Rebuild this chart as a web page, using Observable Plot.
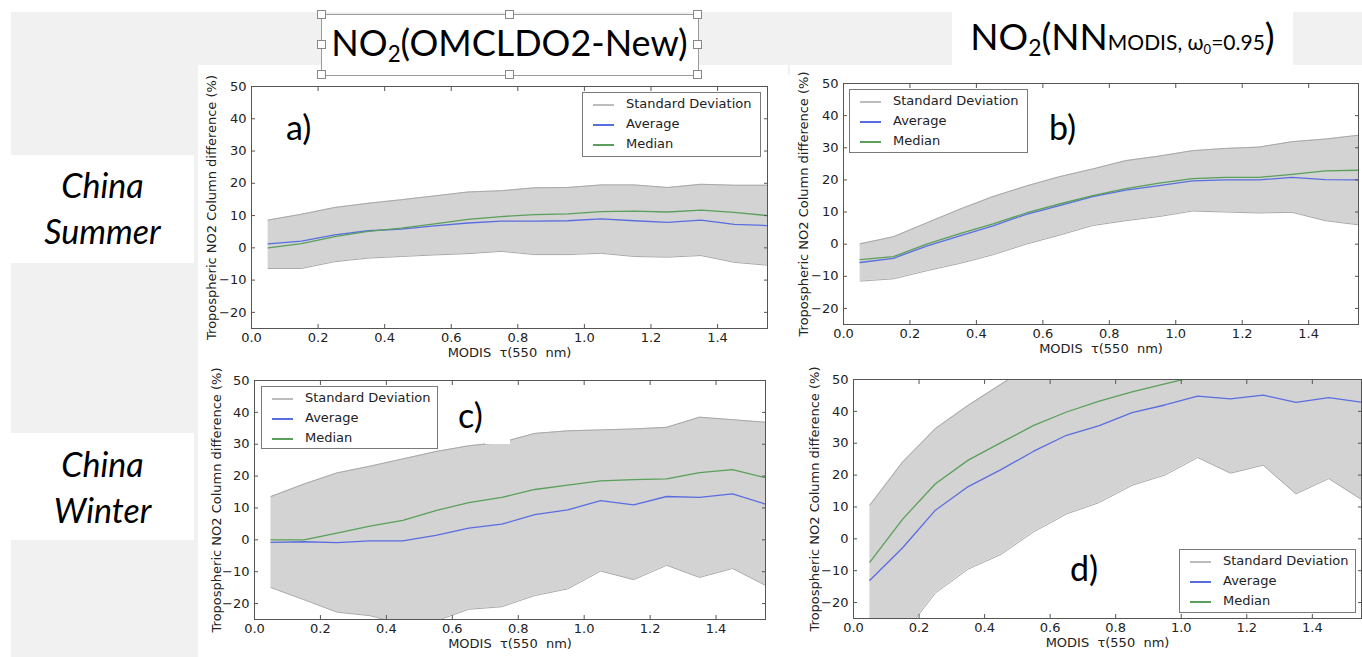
<!DOCTYPE html>
<html>
<head>
<meta charset="utf-8">
<script src="https://cdn.jsdelivr.net/npm/d3@7"></script>
<script src="https://cdn.jsdelivr.net/npm/@observablehq/plot@0.6"></script>
<style>
  body { margin: 0; background: #fff; }
  #page { position: relative; width: 1362px; height: 657px; overflow: hidden; background: #fff; font-family: Lato, "Open Sans", sans-serif; }
  .gray { position: absolute; background: #f1f1f1; }
  .white { position: absolute; background: #fff; }
  .panel { position: absolute; overflow: hidden; }
  .panel svg { display: block; }
  .title { position: absolute; color: #000; white-space: nowrap; line-height: 1; }
  .sub { font-size: 0.62em; position: relative; top: 0.28em; }
  .handle { position: absolute; width: 7px; height: 7px; background: #fff; border: 1px solid #888; }
  .boxline { position: absolute; border: 1px solid #9a9a9a; }
  .region { position: absolute; font-style: italic; font-size: 34px; color: #000; text-align: center; line-height: 46px; }
  .tag { position: absolute; font-size: 34px; color: #000; line-height: 1; }
  .legend { position: absolute; background: #fff; border: 1px solid #7a7a7a; box-sizing: border-box; font-family: "DejaVu Sans", sans-serif; font-size: 13px; color: #222; }
  .legend .row { position: absolute; left: 0; right: 0; height: 20px; }
  .legend .sw { position: absolute; left: 10px; top: 10px; width: 21px; height: 1.5px; }
  .legend .lab { position: absolute; left: 43px; top: 2px; white-space: nowrap; }
</style>
</head>
<body>
<div id="page"></div>
<script>
// MODIS aerosol optical depth bin centres
const tau = [0.05, 0.15, 0.25, 0.35, 0.45, 0.55, 0.65, 0.75, 0.85, 0.95, 1.05, 1.15, 1.25, 1.35, 1.45, 1.55];

// a) OMCLDO2-New, China summer
const aHi  = [8.6, 10.4, 12.5, 13.8, 14.9, 16.1, 17.3, 17.7, 18.6, 18.7, 19.5, 19.5, 18.7, 19.7, 19.4, 19.4];
const aLo  = [-6.4, -6.4, -4.3, -3.2, -2.7, -2.2, -1.8, -1.1, -2.1, -2.1, -1.7, -2.7, -2.9, -2.4, -4.5, -5.4];
const aAvg = [1.2, 2.1, 4.0, 5.3, 5.8, 6.8, 7.7, 8.3, 8.3, 8.4, 9.0, 8.4, 7.9, 8.6, 7.3, 6.9];
const aMed = [0.0, 1.3, 3.5, 5.1, 6.1, 7.4, 8.8, 9.7, 10.3, 10.5, 11.2, 11.4, 11.1, 11.7, 11.0, 10.0];

// b) NN MODIS, China summer
const bHi  = [0.1, 2.3, 6.6, 10.9, 14.8, 18.1, 21.0, 23.4, 26.0, 27.4, 29.1, 29.8, 30.2, 31.9, 32.7, 33.9];
const bLo  = [-11.5, -10.8, -8.3, -6.0, -3.3, 0.0, 2.8, 5.8, 7.3, 8.6, 10.3, 10.0, 9.7, 9.9, 7.3, 6.0];
const bAvg = [-5.7, -4.4, -0.6, 2.6, 5.7, 9.3, 12.0, 14.8, 16.8, 18.2, 19.7, 20.0, 20.0, 20.8, 20.1, 20.0];
const bMed = [-4.8, -3.9, 0.0, 3.3, 6.3, 9.7, 12.5, 15.1, 17.3, 19.0, 20.4, 20.8, 20.8, 21.7, 22.8, 23.0];

// c) OMCLDO2-New, China winter
const cHi  = [13.6, 17.5, 21.0, 23.1, 25.4, 27.7, 29.5, 30.6, 33.4, 34.2, 34.5, 34.8, 35.3, 38.5, 37.7, 36.9];
const cLo  = [-15.0, -18.8, -22.7, -23.8, -26.5, -25.5, -21.8, -21.0, -17.5, -15.4, -9.8, -12.5, -8.0, -11.8, -9.0, -14.3];
const cAvg = [-0.8, -0.6, -0.9, -0.3, -0.3, 1.4, 3.7, 4.9, 7.9, 9.4, 12.3, 11.0, 13.6, 13.3, 14.4, 11.2];
const cMed = [0.0, 0.0, 2.1, 4.3, 6.1, 9.2, 11.7, 13.3, 15.8, 17.2, 18.5, 18.9, 19.1, 21.1, 22.0, 19.5];

// d) NN MODIS, China winter
const dHi  = [10.6, 24.1, 34.6, 41.9, 48.5, 55.0, 58.0, 60.0, 62.0, 64.0, 66.0, 66.0, 67.0, 66.0, 68.0, 70.0];
const dLo  = [-45.0, -30.3, -17.0, -9.5, -4.9, 2.2, 7.8, 11.4, 16.8, 20.0, 25.5, 20.6, 23.1, 14.1, 18.9, 12.3];
const dAvg = [-13.0, -2.8, 9.0, 16.4, 21.7, 27.5, 32.5, 35.5, 39.6, 42.0, 44.8, 43.9, 45.1, 42.8, 44.3, 42.9];
const dMed = [-7.3, 6.2, 17.3, 24.7, 30.2, 35.6, 39.8, 43.2, 46.1, 48.6, 51.1, 52.0, 53.0, 54.0, 55.0, 55.0];

const xTicks = [0, 0.2, 0.4, 0.6, 0.8, 1.0, 1.2, 1.4];
const yTicks = [-20, -10, 0, 10, 20, 30, 40, 50];
const xTitle = "MODIS  \u03c4(550  nm)";
const yTitle = "Tropospheric NO2 Column difference (%)";
const legendLabels = ["Standard Deviation", "Average", "Median"];
const colors = { band: "#d3d3d3", bandEdge: "#a8a8a8", legendBand: "#bdbdbd", avg: "#5a6de0", med: "#5a9f5a" };

const page = document.getElementById("page");
function box(cls, l, t, w, h, extra) {
  const d = document.createElement("div");
  d.className = cls;
  Object.assign(d.style, { left: l + "px", top: t + "px", width: w + "px", height: h + "px" }, extra || {});
  page.appendChild(d);
  return d;
}

// slide background
box("gray", 11, 12, 941, 53);
box("gray", 1293, 12, 69, 53);
box("gray", 11, 65, 187, 592);
box("gray", 780, 65, 10, 10);
box("gray", 1235, 652, 127, 5);
box("white", 11, 155, 183, 108);
box("white", 11, 433, 183, 107);

function panel(p) {
  const rows = tau.map((t, i) => ({ t, lo: p.lo[i], hi: p.hi[i], avg: p.avg[i], med: p.med[i] }));
  const chart = Plot.plot({
    width: p.w, height: p.h,
    marginLeft: p.ml, marginRight: p.mr, marginTop: p.mt, marginBottom: p.mb,
    style: { fontFamily: "DejaVu Sans, sans-serif", fontSize: "13px", color: "#222", background: "#fff" },
    x: { domain: [0, 1.55] },
    y: { domain: [-25, 50] },
    marks: [
      Plot.areaY(rows, { x: "t", y1: "lo", y2: "hi", fill: colors.band, clip: true }),
      Plot.line(rows, { x: "t", y: "lo", stroke: colors.bandEdge, strokeWidth: 1, clip: true }),
      Plot.line(rows, { x: "t", y: "hi", stroke: colors.bandEdge, strokeWidth: 1, clip: true }),
      Plot.line(rows, { x: "t", y: "avg", stroke: colors.avg, strokeWidth: 1.3, clip: true }),
      Plot.line(rows, { x: "t", y: "med", stroke: colors.med, strokeWidth: 1.3, clip: true }),
      Plot.frame({ stroke: "#555" }),
      Plot.axisX(xTicks, { anchor: "bottom", tickSize: 0, tickPadding: 4, tickFormat: d => d.toFixed(1), label: null }),
      Plot.axisX(xTicks, { anchor: "bottom", tickSize: -4, tickFormat: () => "", label: null, stroke: "#555" }),
      Plot.axisX(xTicks, { anchor: "top", tickSize: -4, tickFormat: () => "", label: null, stroke: "#555" }),
      Plot.axisY(yTicks, { anchor: "left", tickSize: 0, tickPadding: 5, label: null }),
      Plot.axisY(yTicks, { anchor: "left", tickSize: -4, tickFormat: () => "", label: null, stroke: "#555" }),
      Plot.axisY(yTicks, { anchor: "right", tickSize: -4, tickFormat: () => "", label: null, stroke: "#555" }),
      Plot.text([xTitle], { text: d => d, frameAnchor: "bottom", lineAnchor: "middle", textAnchor: "middle", dy: 24, fill: "#222" }),
      Plot.text([yTitle], { text: d => d, frameAnchor: "left", lineAnchor: "middle", textAnchor: "middle", rotate: -90, dx: p.ydx, fill: "#222" })
    ]
  });
  const holder = box("panel", p.left, p.top, p.w, p.h);
  holder.appendChild(chart);

  // legend
  const lg = box("legend", p.lg[0], p.lg[1], p.lg[2], p.lg[3]);
  const swatches = [colors.legendBand, colors.avg, colors.med];
  legendLabels.forEach((name, i) => {
    const r = document.createElement("div");
    r.className = "row";
    r.style.top = (1 + i * 20) + "px";
    r.innerHTML = `<div class="sw" style="background:${swatches[i]}"></div><div class="lab">${name}</div>`;
    lg.appendChild(r);
  });

  const tag = document.createElement("div");
  tag.className = "tag";
  tag.textContent = p.tag;
  tag.style.left = p.tagPos[0] + "px";
  tag.style.top = p.tagPos[1] + "px";
  page.appendChild(tag);
}

panel({ left: 198, top: 65, w: 590, h: 298, ml: 53, mr: 21, mt: 21, mb: 35, ydx: -40,
        lo: aLo, hi: aHi, avg: aAvg, med: aMed, lg: [582, 92, 179, 65], tag: "a)", tagPos: [286, 110] });
panel({ left: 790, top: 65, w: 572, h: 295, ml: 53, mr: 4, mt: 18, mb: 36, ydx: -40,
        lo: bLo, hi: bHi, avg: bAvg, med: bMed, lg: [849, 89, 179, 64], tag: "b)", tagPos: [1049, 110] });
panel({ left: 198, top: 365, w: 580, h: 292, ml: 56, mr: 13, mt: 15, mb: 38, ydx: -38,
        lo: cLo, hi: cHi, avg: cAvg, med: cMed, lg: [261, 386, 177, 63], tag: "c)", tagPos: [458, 398] });
panel({ left: 790, top: 365, w: 572, h: 292, ml: 63, mr: 1, mt: 14, mb: 39, ydx: -39,
        lo: dLo, hi: dHi, avg: dAvg, med: dMed, lg: [1179, 549, 177, 64], tag: "d)", tagPos: [1070, 551] });

// small white patch of the "c)" text box over the band edge
box("white", 485, 437, 25, 7);

// row labels
const r1 = box("region", 11, 162, 183, 92); r1.innerHTML = "China<br>Summer";
const r2 = box("region", 11, 441, 183, 92); r2.innerHTML = "China<br>Winter";

// column title 1 with selection frame
box("white", 321, 14, 377, 61);
box("boxline", 321, 14, 376, 60);
[[321, 14], [509, 14], [697, 14], [321, 44], [697, 44], [321, 74], [509, 74], [697, 74]].forEach(([x, y]) => {
  box("handle", x - 4, y - 4, 7, 7);
});
const t1 = document.createElement("div");
t1.className = "title";
t1.style.cssText = "left:321px;top:24px;width:377px;text-align:center;font-size:36px;";
t1.innerHTML = 'NO<span class="sub">2</span>(OMCLDO2-New)';
page.appendChild(t1);

// column title 2
const t2 = document.createElement("div");
t2.className = "title";
t2.style.cssText = "left:952px;top:17px;width:341px;text-align:center;font-size:37px;";
t2.innerHTML = 'NO<span class="sub">2</span>(NN<span style="font-size:21px">MODIS, \u03c9<span class="sub">0</span>=0.95</span>)';
page.appendChild(t2);
</script>
</body>
</html>
